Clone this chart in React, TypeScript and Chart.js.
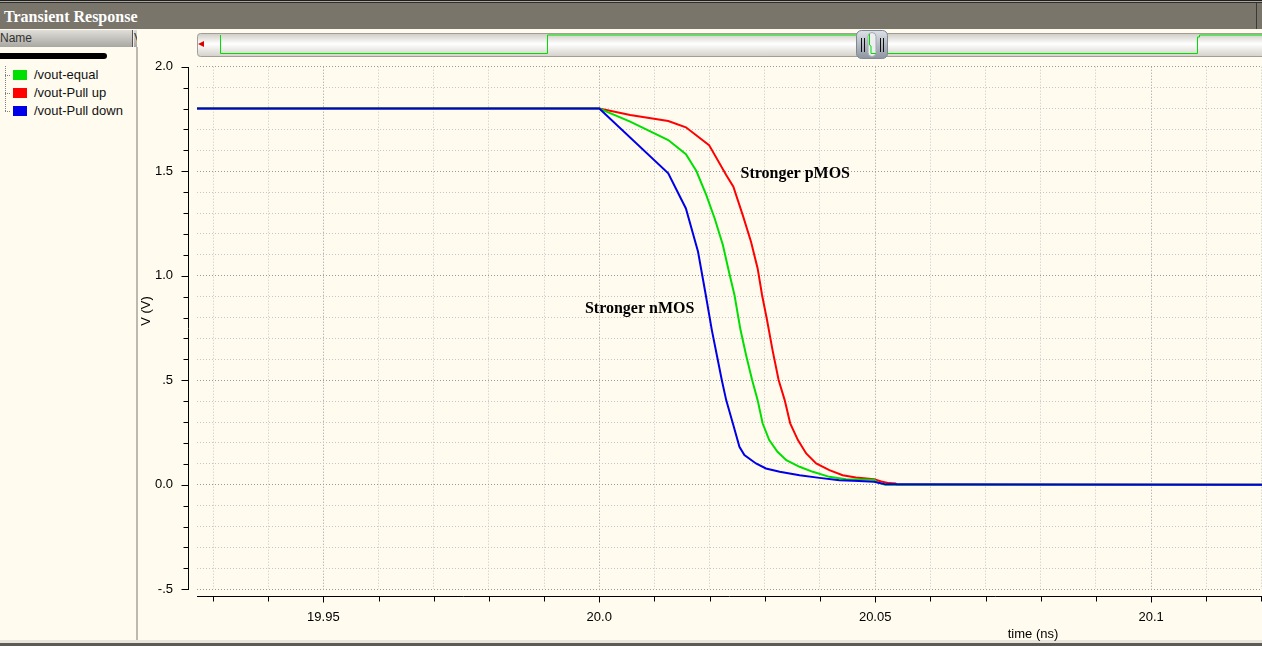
import React, { useEffect, useRef } from "react";
import { Chart, registerables } from "chart.js";

Chart.register(...registerables);

// ---------- axis ranges & ticks ----------
const X_MIN = 19.9271;
const X_MAX = 20.1201;
const Y_MIN = -0.5;
const Y_MAX = 2.0;

const xGridTicks = [19.93, 19.94, 19.95, 19.96, 19.97, 19.98, 19.99, 20.0, 20.01, 20.02, 20.03, 20.04, 20.05, 20.06, 20.07, 20.08, 20.09, 20.1, 20.11, 20.12];
const xLabelValues = [19.95, 20.0, 20.05, 20.1];
const xLabelTexts = ["19.95", "20.0", "20.05", "20.1"];

const yGridTicks = [-0.5, -0.4, -0.3, -0.2, -0.1, 0.0, 0.1, 0.2, 0.3, 0.4, 0.5, 0.6, 0.7, 0.8, 0.9, 1.0, 1.1, 1.2, 1.3, 1.4, 1.5, 1.6, 1.7, 1.8, 1.9, 2.0];
const yLabelValues = [2.0, 1.5, 1.0, 0.5, 0.0, -0.5];
const yLabelTexts = ["2.0", "1.5", "1.0", ".5", "0.0", "-.5"];

// ---------- series (time in ns, voltage in V) ----------
const equalT = [19.9271, 20.0, 20.0056, 20.0125, 20.0157, 20.0176, 20.0194, 20.0209, 20.0224, 20.0235, 20.0245, 20.0256, 20.0266, 20.0277, 20.0287, 20.0296, 20.0308, 20.0323, 20.0339, 20.0363, 20.0387, 20.0417, 20.0447, 20.0498, 20.0505, 20.0518, 20.1201];
const equalV = [1.8, 1.8, 1.737, 1.649, 1.581, 1.501, 1.386, 1.275, 1.147, 1.019, 0.908, 0.74, 0.621, 0.501, 0.405, 0.294, 0.214, 0.158, 0.118, 0.086, 0.062, 0.038, 0.027, 0.024, 0.01, 0.0, 0.0];

const pullUpT = [19.9271, 20.0, 20.0056, 20.0125, 20.0157, 20.0199, 20.023, 20.0243, 20.026, 20.0275, 20.0287, 20.0295, 20.0304, 20.0314, 20.0325, 20.0336, 20.0346, 20.036, 20.0375, 20.0393, 20.0417, 20.0441, 20.0465, 20.0498, 20.0511, 20.0525, 20.0537, 20.0539, 20.1201];
const pullUpV = [1.8, 1.8, 1.769, 1.74, 1.71, 1.625, 1.482, 1.426, 1.29, 1.163, 1.035, 0.908, 0.788, 0.644, 0.501, 0.405, 0.294, 0.214, 0.15, 0.102, 0.07, 0.046, 0.035, 0.026, 0.016, 0.008, 0.006, 0.0, 0.0];

const pullDownT = [19.9271, 20.0, 20.0125, 20.0157, 20.0179, 20.0193, 20.0204, 20.0213, 20.0222, 20.023, 20.0242, 20.0254, 20.0263, 20.0284, 20.0302, 20.0327, 20.0363, 20.0399, 20.0435, 20.0471, 20.0498, 20.0519, 20.1201];
const pullDownV = [1.8, 1.8, 1.49, 1.322, 1.115, 0.908, 0.74, 0.621, 0.501, 0.405, 0.294, 0.182, 0.142, 0.102, 0.078, 0.062, 0.046, 0.033, 0.022, 0.018, 0.014, 0.002, 0.0];

const seriesNames = ["/vout-equal", "/vout-Pull up", "/vout-Pull down"];
const seriesColors = ["#00e000", "#ff0000", "#0000e8"];

// ---------- annotations ----------
const annoTexts = ["Stronger pMOS", "Stronger nMOS"];
const annoT = [20.0256, 19.9974];
const annoV = [1.466, 0.824];

const X_TITLE = "time (ns)";
const Y_TITLE = "V (V)";

const GRID_MINOR = "#c6c6c6";
const GRID_MAJOR = "#9a9a9a";
const CREAM = "#fffbef";
const FONT = '"Liberation Sans", Arial, sans-serif';

const near = (a: number, b: number) => Math.abs(a - b) < 1e-6;
const isMajorX = (v: number) => xLabelValues.some((m) => near(m, v));
const isMajorY = (v: number) => yLabelValues.some((m) => near(m, v));

const toPoints = (ts: number[], vs: number[]) => ts.map((t, i) => ({ x: t, y: vs[i] }));

const decorPlugin = {
  id: "decor",
  afterDraw(chart: any) {
    const { ctx, chartArea, scales } = chart;
    const x = scales.x;
    const y = scales.y;
    ctx.save();
    ctx.strokeStyle = "#000";
    ctx.lineWidth = 1;
    ctx.setLineDash([]);
    ctx.beginPath();
    // y axis line and ticks
    const ax = Math.round(chartArea.left - 9) + 0.5;
    const yTop = Math.round(y.getPixelForValue(Y_MAX));
    const yBot = Math.round(y.getPixelForValue(Y_MIN));
    ctx.moveTo(ax, yTop);
    ctx.lineTo(ax, yBot + 1);
    y.ticks.forEach((t: any) => {
      const py = Math.round(y.getPixelForValue(t.value)) + 0.5;
      const len = isMajorY(t.value) ? 7 : 5;
      ctx.moveTo(ax - len, py);
      ctx.lineTo(ax, py);
    });
    // x axis line and ticks
    const ay = Math.round(chartArea.bottom + 7) + 0.5;
    ctx.moveTo(chartArea.left, ay);
    ctx.lineTo(chartArea.right, ay);
    x.ticks.forEach((t: any) => {
      const px = Math.round(x.getPixelForValue(t.value)) + 0.5;
      if (px > chartArea.right + 1) return;
      const len = isMajorX(t.value) ? 6 : 5;
      ctx.moveTo(px, ay);
      ctx.lineTo(px, ay + len);
    });
    ctx.stroke();

    // axis titles
    ctx.fillStyle = "#000";
    ctx.font = "13px " + FONT;
    ctx.textAlign = "center";
    ctx.textBaseline = "middle";
    ctx.fillText(X_TITLE, chartArea.right - 229, chartArea.bottom + 45);
    ctx.save();
    ctx.translate(8, (chartArea.top + chartArea.bottom) / 2 - 17);
    ctx.rotate(-Math.PI / 2);
    ctx.fillText(Y_TITLE, 0, 0);
    ctx.restore();

    // annotations
    ctx.font = 'bold 16px "Liberation Serif", "Times New Roman", serif';
    ctx.textAlign = "left";
    ctx.textBaseline = "alphabetic";
    annoTexts.forEach((txt, i) => {
      ctx.fillText(txt, x.getPixelForValue(annoT[i]), y.getPixelForValue(annoV[i]));
    });
    ctx.restore();
  },
};

export default function App() {
  const ref = useRef<HTMLCanvasElement>(null);

  useEffect(() => {
    const canvas = ref.current;
    if (!canvas) return;
    const datasets = [
      { label: seriesNames[2], data: toPoints(pullDownT, pullDownV), borderColor: seriesColors[2], order: 0 },
      { label: seriesNames[0], data: toPoints(equalT, equalV), borderColor: seriesColors[0], order: 1 },
      { label: seriesNames[1], data: toPoints(pullUpT, pullUpV), borderColor: seriesColors[1], order: 2 },
    ].map((d) => ({ ...d, borderWidth: 2, pointRadius: 0, tension: 0, fill: false }));

    const chart = new Chart(canvas, {
      type: "line",
      data: { datasets },
      options: {
        animation: false,
        responsive: false,
        maintainAspectRatio: false,
        events: [],
        layout: { padding: { top: 8.7, left: 0, right: 0, bottom: 0 } },
        plugins: { legend: { display: false }, tooltip: { enabled: false }, title: { display: false } },
        scales: {
          x: {
            type: "linear",
            bounds: "data",
            min: X_MIN,
            max: X_MAX,
            afterFit: (s: any) => {
              s.height = 51.7;
            },
            afterBuildTicks: (s: any) => {
              s.ticks = xGridTicks.map((value) => ({ value }));
            },
            border: { display: false, dash: [1, 2] },
            grid: {
              drawTicks: true,
              tickLength: 20,
              tickColor: "rgba(0,0,0,0)",
              lineWidth: 1,
              color: (c: any) => (c.tick && isMajorX(c.tick.value) ? GRID_MAJOR : GRID_MINOR),
            },
            ticks: {
              autoSkip: false,
              maxRotation: 0,
              minRotation: 0,
              padding: 0,
              color: "#000",
              font: { family: FONT, size: 13 },
              callback: (v: any) => {
                const i = xLabelValues.findIndex((m) => near(m, Number(v)));
                return i >= 0 ? xLabelTexts[i] : "";
              },
            },
          },
          y: {
            type: "linear",
            bounds: "data",
            min: Y_MIN,
            max: Y_MAX,
            afterFit: (s: any) => {
              s.width = 59;
            },
            afterBuildTicks: (s: any) => {
              s.ticks = yGridTicks.map((value) => ({ value }));
            },
            border: { display: false, dash: [1, 2] },
            grid: {
              drawTicks: true,
              tickLength: 24,
              tickColor: "rgba(0,0,0,0)",
              lineWidth: 1,
              color: (c: any) => (c.tick && isMajorY(c.tick.value) ? GRID_MAJOR : GRID_MINOR),
            },
            ticks: {
              autoSkip: false,
              padding: 0,
              color: "#000",
              font: { family: FONT, size: 13 },
              callback: (v: any) => {
                const i = yLabelValues.findIndex((m) => near(m, Number(v)));
                return i >= 0 ? yLabelTexts[i] : "";
              },
            },
          },
        },
      },
      plugins: [decorPlugin],
    } as any);
    return () => chart.destroy();
  }, []);

  const legendRows = [0, 1, 2];

  return (
    <div style={{ position: "fixed", left: 0, top: 0, width: 1262, height: 646, background: CREAM, overflow: "hidden" }}>
      <svg width={1262} height={646} style={{ position: "absolute", left: 0, top: 0 }}>
        <defs>
          <linearGradient id="hdr" x1="0" y1="0" x2="0" y2="1">
            <stop offset="0" stopColor="#e0ded8" />
            <stop offset="1" stopColor="#a9a7a1" />
          </linearGradient>
          <linearGradient id="sb" x1="0" y1="0" x2="0" y2="1">
            <stop offset="0" stopColor="#cfccc4" />
            <stop offset="0.45" stopColor="#ffffff" />
            <stop offset="1" stopColor="#d4d1c9" />
          </linearGradient>
          <linearGradient id="th" x1="0" y1="0" x2="0" y2="1">
            <stop offset="0" stopColor="#dde1e7" />
            <stop offset="1" stopColor="#8d95a1" />
          </linearGradient>
          <clipPath id="nameclip">
            <rect x={0} y={29} width={137} height={19} />
          </clipPath>
        </defs>

        {/* window title bar */}
        <rect x={0} y={0} width={1262} height={29} fill="#7a756b" />
        <rect x={0} y={0} width={1262} height={1} fill="#1e1e1e" />
        <rect x={0} y={1} width={1262} height={1} fill="#aaa69d" />
        <rect x={0} y={2} width={1262} height={1} fill="#2e2e2e" />
        <rect x={1256} y={3} width={1} height={26} fill="#3a3a3a" />
        <text x={4} y={22} fill="#ffffff" fontFamily='"Liberation Serif", serif' fontWeight="bold" fontSize={16}>
          Transient Response
        </text>

        {/* name header */}
        <g clipPath="url(#nameclip)">
          <rect x={0} y={30} width={137} height={17} fill="url(#hdr)" />
          <rect x={132} y={30} width={1} height={17} fill="#555" />
          <rect x={133} y={30} width={1} height={17} fill="#eee" />
          <text x={0} y={42} fill="#333" fontFamily={FONT} fontSize={12}>Name</text>
          <text x={134} y={42} fill="#333" fontFamily={FONT} fontSize={12}>V</text>
        </g>
        <rect x={136} y={47} width={2} height={594} fill="#bdb9b1" />
        <rect x={-4} y={53} width={111} height={6} rx={3} fill="#000" />

        {/* tree lines */}
        <line x1={5.5} y1={66} x2={5.5} y2={112} stroke="#808080" strokeDasharray="1 1" />
        {legendRows.map((i) => (
          <line key={"h" + i} x1={5} y1={75.5 + i * 18} x2={11} y2={75.5 + i * 18} stroke="#808080" strokeDasharray="1 1" />
        ))}
        {legendRows.map((i) => (
          <g key={"l" + i}>
            <rect x={13} y={70 + i * 18} width={14} height={10} fill={seriesColors[i]} />
            <text x={34} y={79 + i * 18} fill="#111" fontFamily={FONT} fontSize={13}>
              {seriesNames[i]}
            </text>
          </g>
        ))}

        {/* overview scrollbar */}
        <rect x={197.5} y={33.5} width={1075} height={23} rx={3} fill="url(#sb)" stroke="#a19e97" />
        <polygon points="198,44 204,41 204,47" fill="#dd0000" />
        <polyline
          points="220.5,35 220.5,53.5 547.5,53.5 547.5,35 868.5,35 868.5,45 870.5,46 870.5,53.5 1197.5,53.5 1197.5,37 1199.5,37 1199.5,35 1262,35"
          fill="none"
          stroke="#00dd00"
          strokeWidth={1}
        />
        <rect x={856.5} y={30.5} width={31} height={28} rx={5} fill="url(#th)" stroke="#7f8792" />
        <rect x={868} y={32.5} width={8} height={24} rx={4} fill="#eceef0" stroke="#a3a9b1" />
        <polyline points="869.5,34 869.5,45 871,46 871,53.5 876,53.5" fill="none" stroke="#00dd00" strokeWidth={1} />
        <line x1={861.5} y1={38} x2={861.5} y2={52} stroke="#111" />
        <line x1={864.5} y1={38} x2={864.5} y2={52} stroke="#111" />
        <line x1={880.5} y1={38} x2={880.5} y2={52} stroke="#111" />
        <line x1={883.5} y1={38} x2={883.5} y2={52} stroke="#111" />

        {/* bottom frame */}
        <rect x={0} y={640} width={1262} height={3} fill="#e8e5dd" />
        <rect x={0} y={643} width={1262} height={3} fill="#5c5a56" />
      </svg>
      <canvas
        ref={ref}
        width={1124}
        height={583}
        style={{ position: "absolute", left: 138, top: 58, width: 1124, height: 583 }}
      />
    </div>
  );
}
